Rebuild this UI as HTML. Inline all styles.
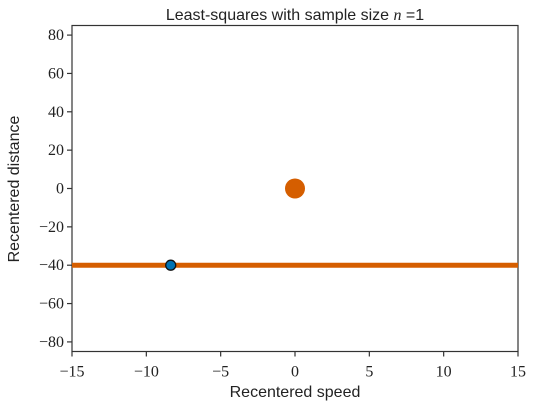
<!DOCTYPE html>
<html><head><meta charset="utf-8"><style>
body{margin:0;background:#fff}
svg text{fill:#222}
.tick{font-family:"Liberation Serif","DejaVu Serif",serif;font-size:16px}
.lab{font-family:"Liberation Sans","DejaVu Sans",sans-serif;font-size:16px}
</style></head><body>
<svg id="c" width="533" height="410" xmlns="http://www.w3.org/2000/svg">
<text class="lab" x="295" y="20" text-anchor="middle" font-size="18">Least-squares with sample size <tspan font-family="Liberation Serif" font-style="italic">n</tspan> =1</text>
<text class="lab" x="295" y="397" text-anchor="middle">Recentered speed</text>
<text class="lab" transform="translate(19,189) rotate(-90)" text-anchor="middle">Recentered distance</text>
<g id="g"></g>
</svg>
<script>
const xTicks=[-15,-10,-5,0,5,10,15];
const yTicks=[-80,-60,-40,-20,0,20,40,60,80];
const sampleX=[-8.36];
const sampleY=[-40];
const meanPoint=[0,0];
const fitIntercept=-40;
const fitSlope=0;
const X0=72,X1=518,Y0=351.5,Y1=25.5;
const sx=v=>X0+(v+15)/30*(X1-X0);
const sy=v=>Y0-(v+85)/170*(Y0-Y1);
const g=document.getElementById('g');
const NS='http://www.w3.org/2000/svg';
function mk(t,a){const e=document.createElementNS(NS,t);for(const k in a)e.setAttribute(k,a[k]);g.appendChild(e);return e;}
const frame=mk('rect',{x:X0,y:Y1,width:X1-X0,height:Y0-Y1,fill:'none',stroke:'#333','stroke-width':1.2});


xTicks.forEach(v=>{
 const l=mk('line',{x1:sx(v),x2:sx(v),y1:Y0,y2:Y0+5,stroke:'#333','stroke-width':1.2});
 
 
 const t=mk('text',{x:sx(v),y:Y0+25,'text-anchor':'middle',class:'tick'});
 t.textContent=(v<0?'\u2212'+(-v):v);
 
 
});
yTicks.forEach(v=>{
 const l=mk('line',{x1:X0-5,x2:X0,y1:sy(v),y2:sy(v),stroke:'#333','stroke-width':1.2});
 
 
 const t=mk('text',{x:X0-8,y:sy(v)+5,'text-anchor':'end',class:'tick'});
 t.textContent=(v<0?'\u2212'+(-v):v);
 
 
});
const fl=mk('line',{x1:X0,x2:X1,y1:sy(fitIntercept+fitSlope*-15),y2:sy(fitIntercept+fitSlope*15),stroke:'#d55e00','stroke-width':5});


sampleX.forEach((v,i)=>{
 const c=mk('circle',{cx:sx(v),cy:sy(sampleY[i]),r:5,fill:'#0072b2',stroke:'#111','stroke-width':1.3});
 
 
});
const m=mk('circle',{cx:sx(meanPoint[0]),cy:sy(meanPoint[1]),r:10,fill:'#d55e00'});


</script>
</body></html>
